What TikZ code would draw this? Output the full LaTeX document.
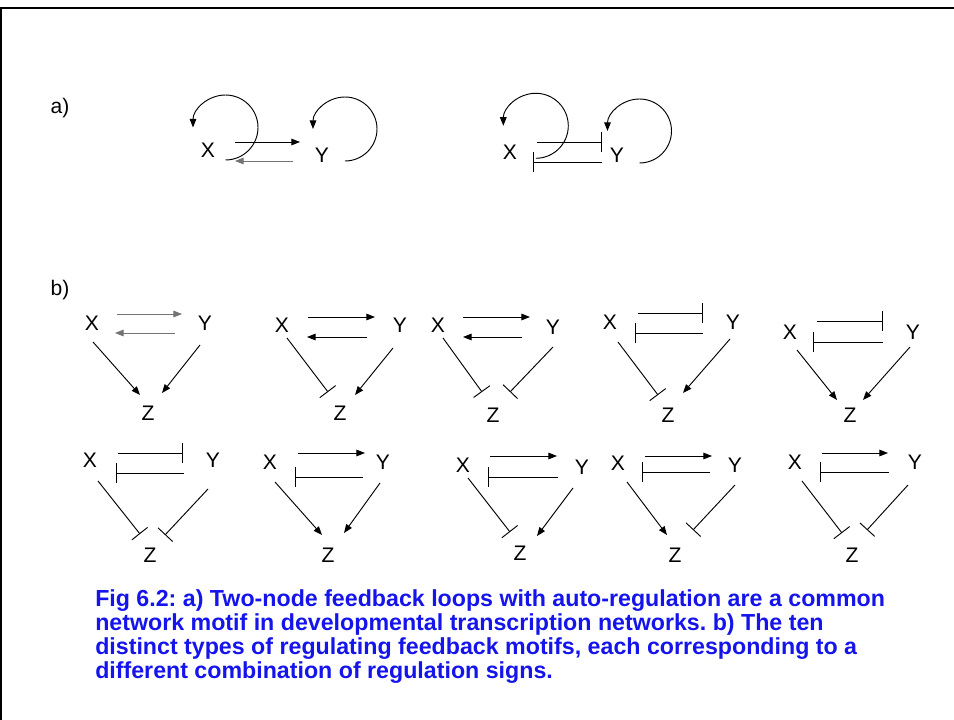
\documentclass[tikz,border=0pt]{standalone}
\usepackage{fontspec}
\setmainfont{Liberation Sans}
\usetikzlibrary{arrows.meta}
\frenchspacing

% connector from one named node to another, each end shifted from the node centre
\newcommand\lnk[5]{\draw[#1] ([shift={#3}]#2.center) -- ([shift={#5}]#4.center);}

\begin{document}
\begin{tikzpicture}[x=0.75pt,y=-0.75pt,
  lbl/.style={font=\fontsize{15.8}{18}\selectfont, inner sep=0pt},
  act/.style={-{Triangle[length=6.5pt,width=5pt]}, line width=0.7pt},
  inh/.style={-{Bar[width=15pt]}, line width=0.7pt},
  pale/.style={draw=black!55},
  frame/.style={line width=1.2pt},
  captxt/.style={font=\fontsize{17.4}{18}\selectfont\bfseries, text=capblue,
                 align=left, inner sep=0pt, anchor=north west}]
\definecolor{capblue}{RGB}{20,20,235}
\useasboundingbox (0,0) rectangle (954,720);

% outer frame
\draw[frame] (1,720) -- (1,8) -- (954,8);

% ---------- panel a ----------
\node[lbl] (la) at (60,108) {a)};

\node[lbl] (xa) at (208,150) {X};
\node[lbl] (ya) at (322,155) {Y};
\lnk{act}{xa}{(27,-8)}{ya}{(-22,-13)}
\lnk{act,pale}{ya}{(-29,6)}{xa}{(27,11)}
\draw[act] ([shift={(17.5,10)}]xa.center) arc[start angle=90, end angle=-180, radius=32.5];
\draw[act] ([shift={(23,6)}]ya.center) arc[start angle=90, end angle=-180, radius=32];

\node[lbl] (xb) at (510,152) {X};
\node[lbl] (yb) at (617,155) {Y};
\lnk{inh}{xb}{(27,-10)}{yb}{(-15,-13)}
\lnk{inh}{yb}{(-15,7)}{xb}{(23,10)}
\draw[act] ([shift={(25.8,6.3)}]xb.center) arc[start angle=90, end angle=-180, radius=32.5];
\draw[act] ([shift={(22.5,8)}]yb.center) arc[start angle=90, end angle=-180, radius=32];

% ---------- panel b ----------
\node[lbl] (lb) at (60,290) {b)};

% motif 1
\node[lbl] (x1) at (92,323) {X};
\node[lbl] (y1) at (205,323) {Y};
\node[lbl] (z1) at (148,413) {Z};
\lnk{act,pale}{x1}{(25,-9)}{y1}{(-23,-9)}
\lnk{act,pale}{y1}{(-30,10)}{x1}{(23,10)}
\lnk{act}{x1}{(1,19)}{z1}{(-8,-18)}
\lnk{act}{y1}{(-5,22)}{z1}{(14,-20)}

% motif 2
\node[lbl] (x2) at (282,325) {X};
\node[lbl] (y2) at (400,325) {Y};
\node[lbl] (z2) at (340,413) {Z};
\lnk{act}{x2}{(26,-8)}{y2}{(-25,-8)}
\lnk{act}{y2}{(-33,12)}{x2}{(25,12)}
\lnk{inh}{x2}{(5,13)}{z2}{(-12,-21)}
\lnk{act}{y2}{(-7,23)}{z2}{(15,-18)}

% motif 3
\node[lbl] (x3) at (438,325) {X};
\node[lbl] (y3) at (553,327) {Y};
\node[lbl] (z3) at (493,415) {Z};
\lnk{act}{x3}{(25,-8)}{y3}{(-23,-10)}
\lnk{act}{y3}{(-31,10)}{x3}{(25,12)}
\lnk{inh}{x3}{(5,13)}{z3}{(-11,-23)}
\lnk{inh}{y3}{(0,20)}{z3}{(17,-23)}

% motif 4
\node[lbl] (x4) at (610,322) {X};
\node[lbl] (y4) at (733,322) {Y};
\node[lbl] (z4) at (668,415) {Z};
\lnk{inh}{x4}{(28,-9)}{y4}{(-30,-9)}
\lnk{inh}{y4}{(-30,11)}{x4}{(25,11)}
\lnk{inh}{x4}{(8,20)}{z4}{(-10,-20)}
\lnk{act}{y4}{(-3,17)}{z4}{(15,-22)}

% motif 5
\node[lbl] (x5) at (790,332) {X};
\node[lbl] (y5) at (913,332) {Y};
\node[lbl] (z5) at (850,415) {Z};
\lnk{inh}{x5}{(27,-11)}{y5}{(-30,-11)}
\lnk{inh}{y5}{(-30,10)}{x5}{(23,10)}
\lnk{act}{x5}{(7,18)}{z5}{(-13,-15)}
\lnk{act}{y5}{(-3,15)}{z5}{(13,-15)}

% motif 6
\node[lbl] (x6) at (90,460) {X};
\node[lbl] (y6) at (213,460) {Y};
\node[lbl] (z6) at (150,555) {Z};
\lnk{inh}{x6}{(28,-7)}{y6}{(-30,-7)}
\lnk{inh}{y6}{(-29,13)}{x6}{(26,13)}
\lnk{inh}{x6}{(8,21)}{z6}{(-10,-21)}
\lnk{inh}{y6}{(-5,29)}{z6}{(15,-20)}

% motif 7
\node[lbl] (x7) at (270,462) {X};
\node[lbl] (y7) at (383,462) {Y};
\node[lbl] (z7) at (328,555) {Z};
\lnk{act}{x7}{(28,-9)}{y7}{(-18,-9)}
\lnk{inh}{y7}{(-20,15)}{x7}{(25,15)}
\lnk{act}{x7}{(5,20)}{z7}{(-6,-20)}
\lnk{act}{y7}{(-3,21)}{z7}{(16,-22)}

% motif 8
\node[lbl] (x8) at (463,465) {X};
\node[lbl] (y8) at (582,467) {Y};
\node[lbl] (z8) at (520,553) {Z};
\lnk{act}{x8}{(27,-9)}{y8}{(-25,-11)}
\lnk{inh}{y8}{(-24,10)}{x8}{(25,12)}
\lnk{inh}{x8}{(5,13)}{z8}{(-10,-21)}
\lnk{act}{y8}{(-9,21)}{z8}{(17,-17)}

% motif 9
\node[lbl] (x9) at (618,463) {X};
\node[lbl] (y9) at (735,465) {Y};
\node[lbl] (z9) at (675,555) {Z};
\lnk{act}{x9}{(27,-7)}{y9}{(-23,-9)}
\lnk{inh}{y9}{(-25,7)}{x9}{(24,9)}
\lnk{act}{x9}{(9,19)}{z9}{(-8,-20)}
\lnk{inh}{y9}{(0,20)}{z9}{(18,-25)}

% motif 10
\node[lbl] (x10) at (795,462) {X};
\node[lbl] (y10) at (915,462) {Y};
\node[lbl] (z10) at (852,555) {Z};
\lnk{act}{x10}{(27,-9)}{y10}{(-27,-9)}
\lnk{inh}{y10}{(-26,10)}{x10}{(25,10)}
\lnk{inh}{x10}{(7,19)}{z10}{(-10,-22)}
\lnk{inh}{y10}{(-7,23)}{z10}{(15,-25)}

% ---------- caption ----------
\node[captxt] (cap) at (95,589) {Fig 6.2: a) Two-node feedback loops with auto-regulation are a common\\
network motif in developmental transcription networks. b) The ten\\
distinct types of regulating feedback motifs, each corresponding to a\\
different combination of regulation signs.};
\end{tikzpicture}
\end{document}
